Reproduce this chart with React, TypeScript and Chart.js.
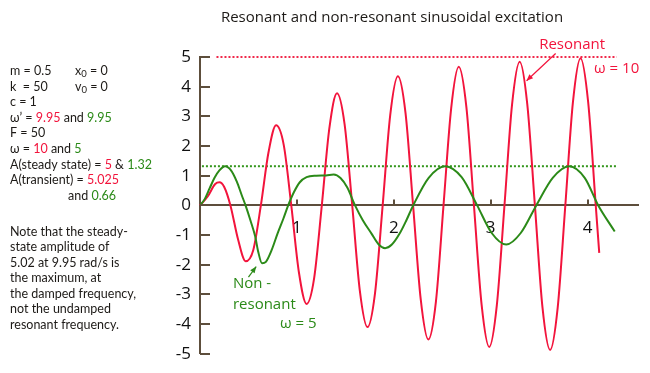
import { useEffect, useRef } from "react";
import { Chart, registerables } from "chart.js";

Chart.register(...registerables);

// ---- data ----
const redTime = [0, 0.079, 0.157, 0.2, 0.25, 0.314, 0.393, 0.471, 0.55, 0.628, 0.707, 0.785, 0.864, 0.942, 1.021, 1.1, 1.178, 1.257, 1.335, 1.414, 1.492, 1.571, 1.649, 1.728, 1.806, 1.885, 1.963, 2.042, 2.121, 2.199, 2.278, 2.356, 2.435, 2.513, 2.592, 2.67, 2.749, 2.827, 2.906, 2.985, 3.063, 3.142, 3.22, 3.299, 3.377, 3.456, 3.534, 3.613, 3.691, 3.77, 3.848, 3.927, 4.006, 4.084, 4.12];
const redDisp = [0, 0.3, 0.72, 0.78, 0.62, 0, -1.15, -1.88, -1.5, 0, 1.79, 2.7, 2.04, 0, -2.26, -3.32, -2.45, 0, 2.6, 3.78, 2.74, 0, -2.86, -4.1, -2.96, 0, 3.04, 4.35, 3.11, 0, -3.17, -4.52, -3.23, 0, 3.27, 4.67, 3.31, 0, -3.34, -4.77, -3.37, 0, 3.39, 4.84, 3.42, 0, -3.43, -4.87, -3.45, 0, 3.46, 4.96, 3.47, 0, -1.6];

const greenTime = [0, 0.05, 0.1, 0.15, 0.2, 0.26, 0.32, 0.38, 0.43, 0.47, 0.52, 0.57, 0.6, 0.64, 0.68, 0.74, 0.8, 0.86, 0.91, 0.97, 1.03, 1.1, 1.2, 1.3, 1.38, 1.45, 1.52, 1.6, 1.68, 1.77, 1.84, 1.91, 1.98, 2.06, 2.13, 2.2, 2.36, 2.53, 2.7, 2.86, 3.01, 3.16, 3.31, 3.47, 3.64, 3.81, 3.97, 4.11, 4.28];
const greenDisp = [0, 0.22, 0.58, 0.93, 1.18, 1.32, 1.18, 0.8, 0.35, 0, -0.5, -1.05, -1.55, -1.95, -1.9, -1.5, -0.95, -0.45, 0, 0.45, 0.78, 0.95, 1.0, 1.01, 1.04, 0.92, 0.6, 0, -0.5, -0.95, -1.3, -1.44, -1.32, -0.95, -0.5, 0, 0.93, 1.32, 0.95, 0, -0.93, -1.32, -0.93, 0, 0.93, 1.32, 0.93, 0, -0.88];

const resonantAmplitude = 5;
const resonantAmpSpan = [0.17, 4.3];
const nonResonantAmplitude = 1.32;
const nonResonantAmpSpan = [0.02, 4.3];

const yTickValues = [-5, -4, -3, -2, -1, 0, 1, 2, 3, 4, 5];
const xTickValues = [1, 2, 3, 4];

const TITLE = "Resonant and non-resonant sinusoidal excitation";

type Seg = { t: string; c?: "r" | "g"; sub?: boolean };
const paramLines: Seg[][] = [
  [{ t: "m = 0.5" }],
  [{ t: "k  = 50" }],
  [{ t: "c = 1" }],
  [{ t: "\u03c9\u2019 = " }, { t: "9.95", c: "r" }, { t: " and " }, { t: "9.95", c: "g" }],
  [{ t: "F = 50" }],
  [{ t: "\u03c9 = " }, { t: "10", c: "r" }, { t: " and " }, { t: "5", c: "g" }],
  [{ t: "A(steady state) = " }, { t: "5", c: "r" }, { t: " & " }, { t: "1.32", c: "g" }],
  [{ t: "A(transient) = " }, { t: "5.025", c: "r" }],
];
const paramLastLine: Seg[] = [{ t: "and " }, { t: "0.66", c: "g" }];
const initLines: Seg[][] = [
  [{ t: "x" }, { t: "0", sub: true }, { t: " = 0" }],
  [{ t: "v" }, { t: "0", sub: true }, { t: " = 0" }],
];
const noteLines = [
  "Note that the steady-",
  "state amplitude of",
  "5.02 at 9.95 rad/s is",
  "the maximum, at",
  "the damped frequency,",
  "not the undamped",
  "resonant frequency.",
];
const resonantLabel = ["Resonant", "\u03c9 = 10"];
const nonResonantLabel = ["Non -", "resonant", "\u03c9 = 5"];

// ---- styles ----
const RED = "#f2143c";
const GREEN = "#2b8a18";
const AXIS = "#5d4e3c";
const TEXT = "#1d1a17";
const FONT = "'Open Sans', sans-serif";
const SIDE_FONT = "Lato, 'Open Sans', sans-serif";

function drawSegs(ctx: CanvasRenderingContext2D, segs: Seg[], x: number, y: number, size: number) {
  let cx = x;
  for (const s of segs) {
    ctx.fillStyle = s.c === "r" ? RED : s.c === "g" ? GREEN : TEXT;
    if (s.sub) {
      ctx.font = `${size - 3}px ${SIDE_FONT}`;
      ctx.fillText(s.t, cx, y + 3);
    } else {
      ctx.font = `${size}px ${SIDE_FONT}`;
      ctx.fillText(s.t, cx, y);
    }
    cx += ctx.measureText(s.t).width;
  }
}

function arrow(ctx: CanvasRenderingContext2D, x1: number, y1: number, x2: number, y2: number, color: string) {
  ctx.strokeStyle = color;
  ctx.fillStyle = color;
  ctx.lineWidth = 1.2;
  ctx.beginPath();
  ctx.moveTo(x1, y1);
  ctx.lineTo(x2, y2);
  ctx.stroke();
  const a = Math.atan2(y2 - y1, x2 - x1);
  const L = 7;
  ctx.beginPath();
  ctx.moveTo(x2, y2);
  ctx.lineTo(x2 - L * Math.cos(a - 0.4), y2 - L * Math.sin(a - 0.4));
  ctx.lineTo(x2 - L * Math.cos(a + 0.4), y2 - L * Math.sin(a + 0.4));
  ctx.closePath();
  ctx.fill();
}

const decorPlugin = {
  id: "decor",
  afterDraw(chart: any) {
    const ctx: CanvasRenderingContext2D = chart.ctx;
    const xs = chart.scales.x;
    const ys = chart.scales.y;
    const left = chart.chartArea.left;
    const y0 = ys.getPixelForValue(0);
    ctx.save();
    // inward tick marks
    ctx.strokeStyle = AXIS;
    ctx.lineWidth = 2;
    for (const v of yTickValues) {
      const py = Math.round(ys.getPixelForValue(v));
      ctx.beginPath();
      ctx.moveTo(left, py);
      ctx.lineTo(left + 10, py);
      ctx.stroke();
    }
    for (const v of xTickValues) {
      const px = Math.round(xs.getPixelForValue(v));
      ctx.beginPath();
      ctx.moveTo(px, y0);
      ctx.lineTo(px, y0 - 6);
      ctx.stroke();
    }
    // title
    ctx.textBaseline = "middle";
    ctx.textAlign = "center";
    ctx.fillStyle = TEXT;
    ctx.font = `15px ${FONT}`;
    ctx.fillText(TITLE, 392, 18);
    // parameters
    ctx.textAlign = "left";
    paramLines.forEach((segs, i) => drawSegs(ctx, segs, 10, 71 + i * 15.6, 12.5));
    drawSegs(ctx, paramLastLine, 68, 71 + 8 * 15.6, 12.5);
    initLines.forEach((segs, i) => drawSegs(ctx, segs, 75, 71 + i * 15.6, 12.5));
    noteLines.forEach((s, i) => drawSegs(ctx, [{ t: s }], 10, 232 + i * 15.45, 12.5));
    // resonant label
    ctx.fillStyle = RED;
    ctx.font = `15px ${FONT}`;
    ctx.textAlign = "center";
    ctx.fillText(resonantLabel[0], xs.getPixelForValue(3.84), ys.getPixelForValue(5.41));
    ctx.fillText(resonantLabel[1], xs.getPixelForValue(4.3), ys.getPixelForValue(4.61));
    arrow(ctx, xs.getPixelForValue(3.67), ys.getPixelForValue(5.12), xs.getPixelForValue(3.37), ys.getPixelForValue(4.2), RED);
    // non-resonant label
    ctx.fillStyle = GREEN;
    ctx.textAlign = "left";
    ctx.fillText(nonResonantLabel[0], xs.getPixelForValue(0.34), ys.getPixelForValue(-2.65));
    ctx.fillText(nonResonantLabel[1], xs.getPixelForValue(0.34), ys.getPixelForValue(-3.35));
    ctx.fillText(nonResonantLabel[2], xs.getPixelForValue(0.825), ys.getPixelForValue(-3.98));
    arrow(ctx, xs.getPixelForValue(0.5), ys.getPixelForValue(-2.42), xs.getPixelForValue(0.58), ys.getPixelForValue(-2.06), GREEN);
    ctx.restore();
  },
};

export default function App() {
  const ref = useRef<HTMLCanvasElement>(null);
  useEffect(() => {
    if (!ref.current) return;
    const chart = new Chart(ref.current, {
      type: "scatter",
      data: {
        datasets: [
          {
            label: "Non-resonant \u03c9 = 5",
            data: greenTime.map((t, i) => ({ x: t, y: greenDisp[i] })),
            borderColor: GREEN,
            borderWidth: 2,
            showLine: true,
            pointRadius: 0,
            cubicInterpolationMode: "monotone",
          },
          {
            label: "Resonant \u03c9 = 10",
            data: redTime.map((t, i) => ({ x: t, y: redDisp[i] })),
            borderColor: RED,
            borderWidth: 2,
            showLine: true,
            pointRadius: 0,
            cubicInterpolationMode: "monotone",
            clip: 6,
          },
          {
            label: "A resonant",
            data: resonantAmpSpan.map((t) => ({ x: t, y: resonantAmplitude })),
            borderColor: "#f0284a",
            borderWidth: 2,
            borderDash: [2, 2],
            showLine: true,
            pointRadius: 0,
            clip: 6,
          },
          {
            label: "A non-resonant",
            data: nonResonantAmpSpan.map((t) => ({ x: t, y: nonResonantAmplitude })),
            borderColor: "#34961c",
            borderWidth: 2,
            borderDash: [2, 2],
            showLine: true,
            pointRadius: 0,
          },
        ],
      },
      options: {
        animation: false,
        responsive: false,
        devicePixelRatio: 1,
        layout: { padding: { left: 0, top: 57, right: 12, bottom: 14 } },
        plugins: { legend: { display: false }, tooltip: { enabled: false }, title: { display: false } },
        scales: {
          x: {
            type: "linear",
            min: 0,
            max: 4.52,
            position: { y: 0 } as any,
            grid: { drawOnChartArea: false, drawTicks: false },
            border: { display: true, color: AXIS, width: 2 },
            ticks: {
              stepSize: 1,
              includeBounds: false,
              padding: 13,
              color: "#111",
              font: { family: FONT, size: 17 },
              callback: (v: any) => (v === 0 || !Number.isInteger(v) ? "" : String(v)),
            },
          },
          y: {
            type: "linear",
            min: -5,
            max: 5,
            afterFit: (s: any) => {
              s.width = 200;
            },
            grid: { drawOnChartArea: false, drawTicks: false },
            border: { display: true, color: AXIS, width: 2 },
            ticks: {
              stepSize: 1,
              padding: 9,
              color: "#111",
              font: { family: FONT, size: 17 },
            },
          },
        },
      },
      plugins: [decorPlugin],
    } as any);
    return () => chart.destroy();
  }, []);
  return (
    <div style={{ position: "fixed", left: 0, top: 0, width: 650, height: 373, background: "#fff" }}>
      <canvas ref={ref} width={650} height={373} style={{ display: "block", width: 650, height: 373 }} />
    </div>
  );
}
